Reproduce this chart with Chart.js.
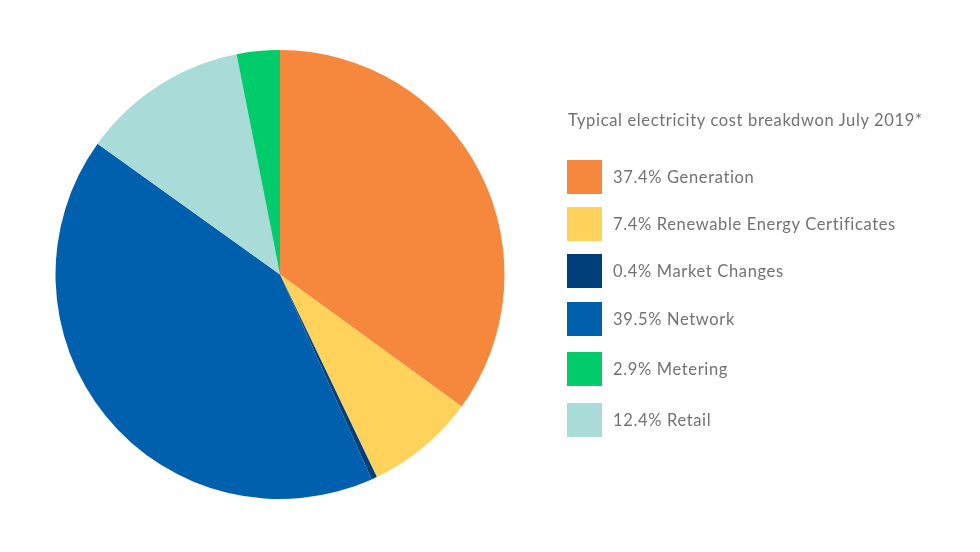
<!DOCTYPE html>
<html>
<head>
<meta charset="utf-8">
<script src="https://cdn.jsdelivr.net/npm/chart.js@4.4.1/dist/chart.umd.min.js"></script>
<style>
    html, body { margin: 0; padding: 0; background: #ffffff; }
    #wrap { position: relative; width: 980px; height: 552px; }
    #graficoPizza { position: absolute; left: 0; top: 0; }
    #legenda { position: absolute; left: 0; top: 0; width: 980px; height: 552px; font-family: Lato, sans-serif; color: #727272; letter-spacing: 0.65px; }
    #titulo { position: absolute; left: 568px; top: 110px; font-size: 16.5px; white-space: nowrap; }
    .item { position: absolute; left: 567px; height: 34px; display: flex; align-items: center; white-space: nowrap; font-size: 16.5px; }
    .caixa { width: 35px; height: 34px; margin-right: 11px; }
</style>
</head>
<body>
<div id="wrap">
    <canvas id="graficoPizza" width="980" height="552"></canvas>
    <div id="legenda"><div id="titulo">Typical electricity cost breakdwon July 2019*</div></div>
</div>
<script>
// slices in drawing order, clockwise from 12 o'clock
const categorias = ['Generation', 'Renewable Energy Certificates', 'Market Changes', 'Network', 'Retail', 'Metering'];
// shares as drawn in the picture (%)
const fatias = [35.0, 7.9, 0.4, 41.6, 12.0, 3.1];
// percentages printed in the legend
const rotulos = ['37.4%', '7.4%', '0.4%', '39.5%', '12.4%', '2.9%'];
const cores = ['#f5883c', '#ffd35b', '#003f7a', '#0060ae', '#a9dbd9', '#00cc6b'];
// legend lists Metering before Retail
const ordemLegenda = [0, 1, 2, 3, 5, 4];

document.addEventListener('DOMContentLoaded', function() {
    criarGrafico();
    criarLegenda();
});

function criarGrafico() {
    const ctx = document.getElementById('graficoPizza').getContext('2d');
    new Chart(ctx, {
        type: 'pie',
        data: {
            labels: categorias,
            datasets: [{
                data: fatias,
                backgroundColor: cores,
                borderWidth: 0
            }]
        },
        options: {
            responsive: false,
            animation: false,
            layout: { padding: { left: 55.5, top: 50, right: 475.5, bottom: 53 } },
            plugins: {
                legend: { display: false },
                tooltip: { enabled: false }
            }
        }
    });
}

function criarLegenda() {
    const legenda = document.getElementById('legenda');
    const topos = [160, 207, 254, 302, 352, 403];
    ordemLegenda.forEach((i, n) => {
        const item = document.createElement('div');
        item.className = 'item';
        item.style.top = topos[n] + 'px';
        const caixa = document.createElement('div');
        caixa.className = 'caixa';
        caixa.style.background = cores[i];
        const texto = document.createElement('span');
        texto.textContent = rotulos[i] + ' ' + categorias[i];
        item.appendChild(caixa);
        item.appendChild(texto);
        legenda.appendChild(item);
    });
}
</script>
</body>
</html>
